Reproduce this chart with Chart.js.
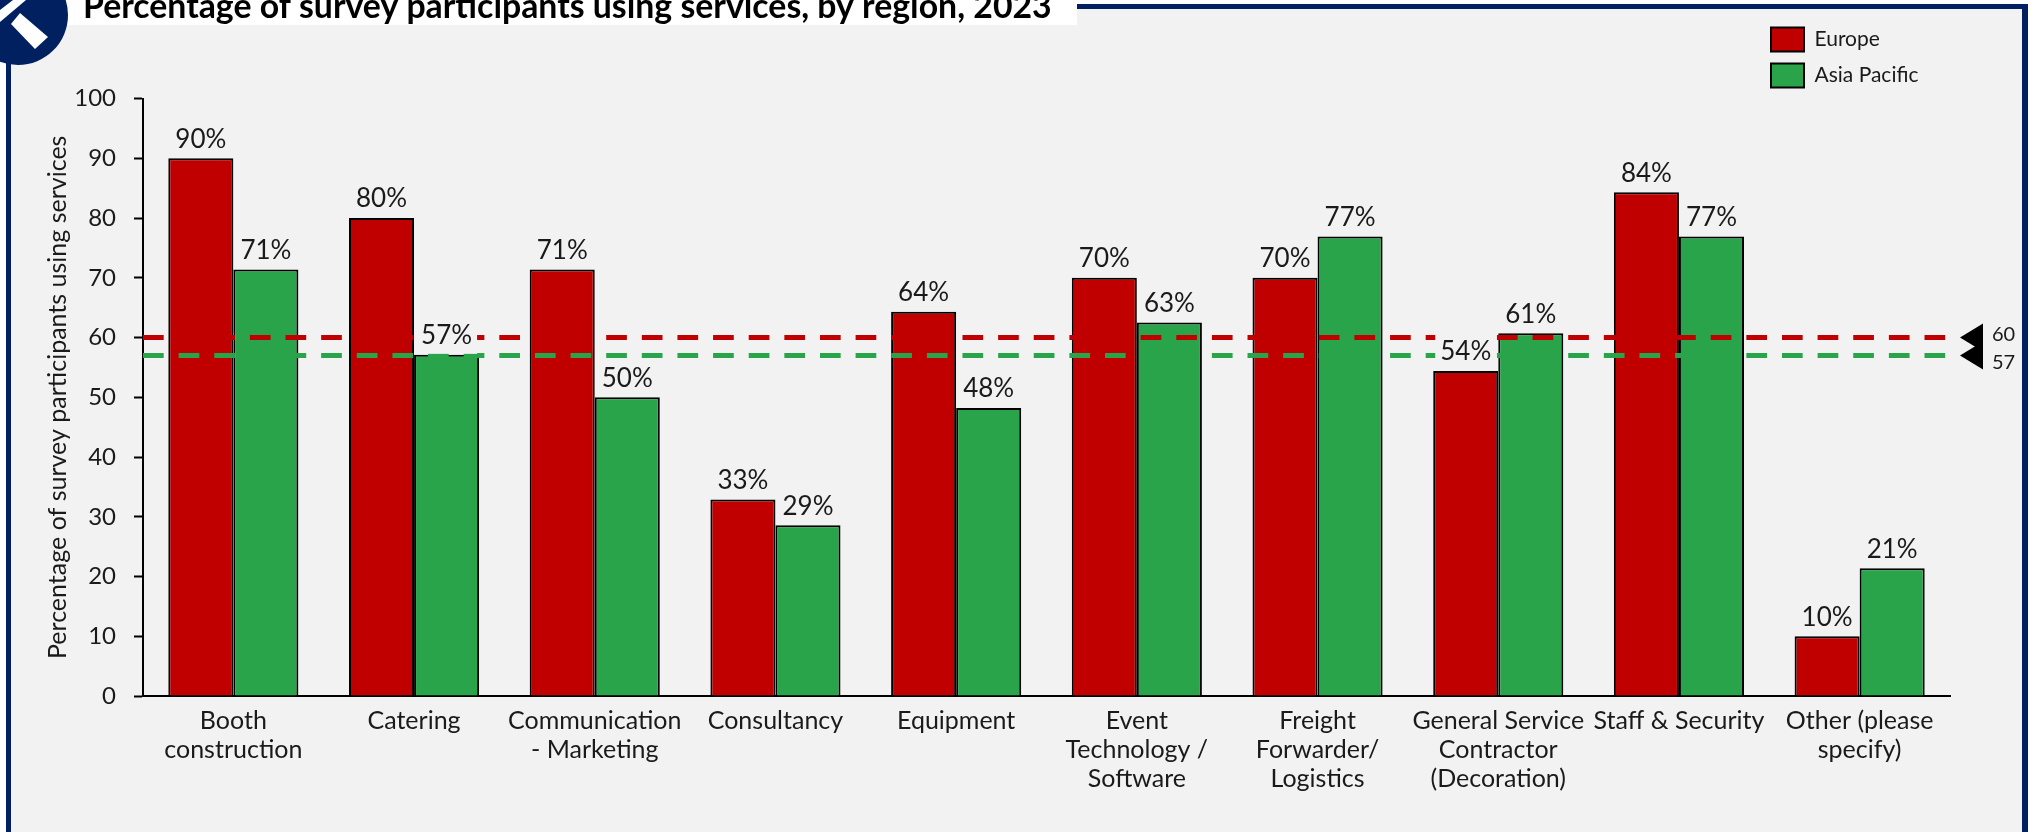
<!DOCTYPE html>
<html>
<head>
<meta charset="utf-8">
<script src="https://cdn.jsdelivr.net/npm/chart.js@4"></script>
<style>
html, body { margin: 0; padding: 0; background: #fff; }
#wrap { width: 2034px; height: 832px; }
</style>
</head>
<body>
<div id="wrap"><canvas id="chart" width="2034" height="832"></canvas></div>
<script>
let titleText = "Percentage of survey participants using services, by region, 2023";
let yTitle = "Percentage of survey participants using services";

let categories = [
    "Booth|construction",
    "Catering",
    "Communication|- Marketing",
    "Consultancy",
    "Equipment",
    "Event|Technology /|Software",
    "Freight|Forwarder/|Logistics",
    "General Service|Contractor|(Decoration)",
    "Staff & Security",
    "Other (please|specify)"
];
let europeValues = [90, 80, 71.4, 32.9, 64.3, 70, 70, 54.4, 84.3, 10];
let asiaValues = [71.4, 57.1, 50, 28.6, 48.2, 62.5, 76.9, 60.7, 76.9, 21.4];
let europeAverage = 60;
let asiaAverage = 57;
let yTicks = [0, 10, 20, 30, 40, 50, 60, 70, 80, 90, 100];

let red = "#c00000";
let green = "#2aa44a";
let navy = "#002060";
let panel = "#f2f2f2";
let textColor = "#1a1a1a";
let fontName = "Lato, 'Open Sans', sans-serif";

// the average lines use their own x axis, that must not split the bar groups in half
Chart.BarController.prototype._getAxisCount = function () { return 1; };

// frame, logo and white title box go behind the chart
let framePlugin = {
    id: "frame",
    beforeDraw(chart) {
        let ctx = chart.ctx;
        ctx.save();
        ctx.fillStyle = "#ffffff";
        ctx.fillRect(0, 0, 2034, 832);
        ctx.fillStyle = navy;
        ctx.fillRect(6, 4, 2022, 828);
        ctx.fillStyle = panel;
        ctx.fillRect(11, 9, 2011, 823);
        ctx.fillStyle = "#ffffff";
        ctx.fillRect(30, 0, 1047, 25);
        ctx.fillStyle = navy;
        ctx.beginPath();
        ctx.arc(18, 15, 50, 0, Math.PI * 2);
        ctx.fill();
        ctx.fillStyle = "#ffffff";
        ctx.beginPath();
        ctx.moveTo(13, 0);
        ctx.lineTo(26, 0);
        ctx.lineTo(0, 22);
        ctx.lineTo(0, 10);
        ctx.closePath();
        ctx.fill();
        ctx.beginPath();
        ctx.moveTo(20, 13);
        ctx.lineTo(48, 37);
        ctx.lineTo(35, 49);
        ctx.lineTo(11, 24);
        ctx.closePath();
        ctx.fill();
        ctx.restore();
    },
    afterLayout(chart) {
        // title and legend sit outside their usual slots
        let t = chart.titleBlock;
        t.left = 83;
        t.right = 1100;
        let l = chart.legend;
        l.left = 1759;
        l.right = 2020;
        l.top = 15;
        l.bottom = 100;
    }
};

// value labels have a panel coloured box which hides the dashed lines behind them
let labelPlugin = {
    id: "barLabels",
    afterDatasetsDraw(chart) {
        let ctx = chart.ctx;
        ctx.save();
        ctx.font = "26px " + fontName;
        ctx.textAlign = "center";
        ctx.textBaseline = "middle";
        [0, 1].forEach(function (d) {
            let values = chart.data.datasets[d].data;
            chart.getDatasetMeta(d).data.forEach(function (bar, i) {
                let text = values[i].toFixed(0) + "%";
                let w = ctx.measureText(text).width + 10;
                ctx.fillStyle = panel;
                ctx.fillRect(bar.x - w / 2, bar.y - 39, w, 38);
                ctx.fillStyle = textColor;
                ctx.fillText(text, bar.x, bar.y - 19);
            });
        });
        // averages at the right hand end
        let y = chart.scales.y;
        [europeAverage, asiaAverage].forEach(function (v) {
            let py = y.getPixelForValue(v);
            ctx.fillStyle = "#000000";
            ctx.beginPath();
            ctx.moveTo(1960, py);
            ctx.lineTo(1983, py - 14);
            ctx.lineTo(1983, py + 14);
            ctx.closePath();
            ctx.fill();
        });
        ctx.fillStyle = textColor;
        ctx.font = "20px " + fontName;
        ctx.textAlign = "left";
        ctx.fillText(String(europeAverage), 1992, y.getPixelForValue(europeAverage) - 3);
        ctx.fillText(String(asiaAverage), 1992, y.getPixelForValue(asiaAverage) + 7);
        ctx.restore();
    }
};

new Chart("chart", {
    type: "bar",
    data: {
        labels: categories,
        datasets: [{
            label: "Europe",
            data: europeValues,
            backgroundColor: red,
            borderColor: "#000000",
            borderWidth: 2,
            order: 2
        }, {
            label: "Asia Pacific",
            data: asiaValues,
            backgroundColor: green,
            borderColor: "#000000",
            borderWidth: 2,
            order: 2
        }, {
            type: "line",
            label: "Europe average",
            xAxisID: "xRef",
            data: [{ x: 0, y: europeAverage }, { x: 1, y: europeAverage }],
            borderColor: red,
            borderWidth: 5,
            borderDash: [20.7, 14.93],
            pointRadius: 0,
            order: 1
        }, {
            type: "line",
            label: "Asia Pacific average",
            xAxisID: "xRef",
            data: [{ x: 0, y: asiaAverage }, { x: 1, y: asiaAverage }],
            borderColor: green,
            borderWidth: 5,
            borderDash: [20.7, 14.93],
            pointRadius: 0,
            order: 0
        }]
    },
    plugins: [framePlugin, labelPlugin],
    options: {
        responsive: false,
        animation: false,
        layout: {
            autoPadding: false,
            padding: { left: 0, right: 84, top: 0, bottom: 0 }
        },
        datasets: {
            bar: {
                barPercentage: 1,
                categoryPercentage: 0.72
            }
        },
        scales: {
            x: {
                offset: true,
                afterFit(scale) { scale.height = 136; },
                grid: { display: false, drawTicks: false },
                border: { color: "#000000", width: 2 },
                ticks: {
                    maxRotation: 0,
                    autoSkip: false,
                    padding: 10,
                    color: textColor,
                    font: { family: fontName, size: 25, lineHeight: 1.17 },
                    callback(value) {
                        return this.getLabelForValue(value).split("|");
                    }
                }
            },
            xRef: {
                type: "linear",
                display: false,
                offset: false,
                min: 0,
                max: 1
            },
            y: {
                min: 0,
                max: 100,
                afterFit(scale) { scale.width = 143; },
                afterBuildTicks(scale) {
                    scale.ticks = yTicks.map(function (v) { return { value: v }; });
                },
                border: { color: "#000000", width: 2 },
                grid: { display: true, drawOnChartArea: false, drawTicks: true, tickLength: 9, tickColor: "#000000", tickWidth: 2 },
                ticks: {
                    padding: 18,
                    color: textColor,
                    font: { family: fontName, size: 24 }
                },
                title: {
                    display: true,
                    text: yTitle,
                    color: textColor,
                    font: { family: fontName, size: 25 },
                    padding: { top: 43, bottom: 0 }
                }
            }
        },
        plugins: {
            title: {
                display: true,
                text: titleText,
                align: "start",
                color: "#000000",
                font: { family: fontName, size: 33.8, weight: "bold", lineHeight: 1.2 },
                padding: { top: -13, bottom: 71 }
            },
            legend: {
                position: "chartArea",
                labels: {
                    boxWidth: 33,
                    boxHeight: 24,
                    padding: 12,
                    color: textColor,
                    font: { family: fontName, size: 21 },
                    filter(item) { return item.datasetIndex < 2; }
                }
            },
            tooltip: { enabled: false }
        }
    }
});
</script>
</body>
</html>
